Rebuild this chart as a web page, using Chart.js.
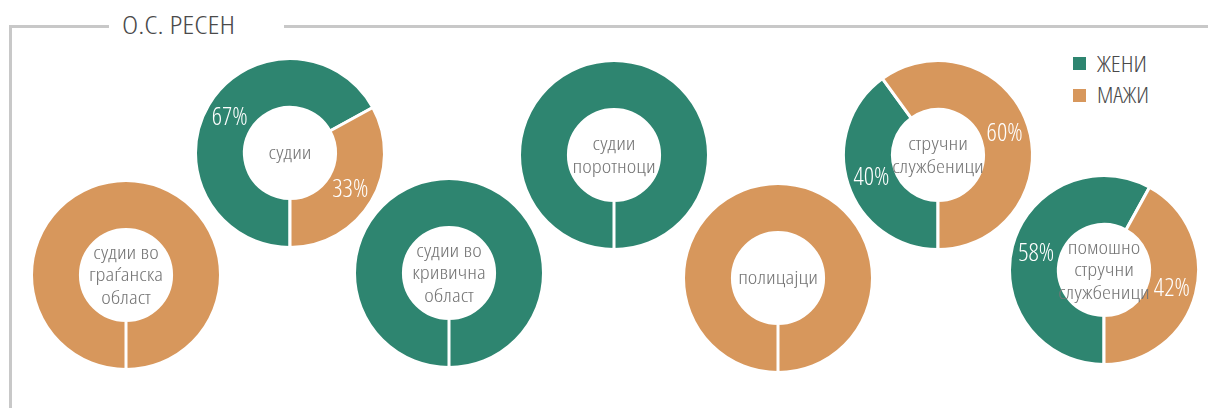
<!DOCTYPE html>
<html>
<head>
<meta charset="utf-8">
<script src="https://cdn.jsdelivr.net/npm/chart.js@4.4.1/dist/chart.umd.min.js"></script>
<style>
  html, body { margin: 0; padding: 0; background: #ffffff; }
  body { width: 1208px; height: 408px; position: relative; overflow: hidden; font-family: "Open Sans", "Roboto", sans-serif; font-weight: 300; font-stretch: condensed; }
  .frame-v { position: absolute; left: 9px; top: 25px; width: 3px; height: 400px; background: #c8c8c8; }
  .frame-h1 { position: absolute; left: 9px; top: 25px; width: 100px; height: 3px; background: #c8c8c8; }
  .frame-h2 { position: absolute; left: 284px; top: 25px; width: 930px; height: 3px; background: #c8c8c8; }
  .txt { position: absolute; white-space: nowrap; transform-origin: 0 0; display: inline-block; }
  .title { left: 122px; top: 11px; font-size: 26px; line-height: 26px; color: #4a4a4a; }
  .lg { left: 1097px; font-size: 22px; line-height: 22px; color: #4a4a4a; }
  .sw { position: absolute; left: 1073px; width: 13px; height: 13px; }
  .pie { position: absolute; width: 200px; height: 200px; }
</style>
</head>
<body>
<div class="frame-v"></div>
<div class="frame-h1"></div>
<div class="frame-h2"></div>
<div class="txt title" id="title" data-w="113">О.С. РЕСЕН</div>
<div id="legend"></div>
<div id="pies"></div>
<script>
// ---- data ----
const categories = [
  'судии во\nграѓанска\nобласт',
  'судии',
  'судии во\nкривична\nобласт',
  'судии\nпоротноци',
  'полицајци',
  'стручни\nслужбеници',
  'помошно\nстручни\nслужбеници'
];
const seriesNames = ['ЖЕНИ', 'МАЖИ'];
const women = [0, 67, 100, 100, 0, 40, 58];
const men   = [100, 33, 0, 0, 100, 60, 42];

// ---- layout / style ----
const colors = ['#2e8570', '#d7975c'];
const centers = [[125.5, 274.5], [290, 152.5], [448.5, 272.5], [613.5, 154.5], [777.5, 277.5], [938, 155], [1103.5, 270]];

const legendEl = document.getElementById('legend');
const legendWidths = [50, 52];
seriesNames.forEach((n, i) => {
  const sw = document.createElement('div');
  sw.className = 'sw';
  sw.style.top = (57 + i * 31.5) + 'px';
  sw.style.background = colors[i];
  legendEl.appendChild(sw);
  const t = document.createElement('div');
  t.className = 'txt lg';
  t.style.top = (51.5 + i * 31.5) + 'px';
  t.dataset.w = legendWidths[i];
  t.textContent = n;
  legendEl.appendChild(t);
});
// fit HTML text widths to reference widths (condensed face)
document.querySelectorAll('.txt').forEach(el => {
  const w = el.getBoundingClientRect().width;
  el.style.transform = 'scaleX(' + (parseFloat(el.dataset.w) / w) + ')';
});

const FONT = '"Open Sans", "Roboto", sans-serif';

function setFont(ctx, size) {
  ctx.font = '300 ' + size + 'px ' + FONT;
  try { ctx.fontStretch = 'condensed'; } catch (e) {}
}

const labelPlugin = {
  id: 'labels',
  afterDatasetsDraw(chart) {
    const ctx = chart.ctx;
    const meta = chart.getDatasetMeta(0);
    const ds = chart.data.datasets[0].data;
    const nonZero = ds.filter(v => v > 0).length;
    const lines = chart.options.plugins.centerText.text.split('\n');
    const lh = 22.5;
    const cx = meta.data[0].x, cy = meta.data[0].y + 1;
    ctx.save();
    setFont(ctx, 19);
    const sx = 43 / ctx.measureText('судии').width;
    ctx.fillStyle = '#767676';
    ctx.textAlign = 'center';
    ctx.textBaseline = 'middle';
    lines.forEach((l, i) => {
      ctx.save();
      ctx.translate(cx, cy + (i - (lines.length - 1) / 2) * lh);
      ctx.scale(sx, 1);
      ctx.fillText(l, 0, 0);
      ctx.restore();
    });
    if (nonZero > 1) {
      setFont(ctx, 25);
      const sp = 36 / ctx.measureText('67%').width;
      ctx.fillStyle = '#ffffff';
      meta.data.forEach((arc, i) => {
        if (ds[i] > 0) {
          const p = arc.tooltipPosition();
          ctx.save();
          ctx.translate(p.x, p.y + 1);
          ctx.scale(sp, 1);
          ctx.fillText(ds[i] + '%', 0, 0);
          ctx.restore();
        }
      });
    }
    ctx.restore();
  }
};

const piesEl = document.getElementById('pies');
categories.forEach((cat, i) => {
  const div = document.createElement('div');
  div.className = 'pie';
  div.style.left = (centers[i][0] - 100) + 'px';
  div.style.top = (centers[i][1] - 100) + 'px';
  const c = document.createElement('canvas');
  div.appendChild(c);
  piesEl.appendChild(div);
  new Chart(c, {
    type: 'doughnut',
    data: {
      labels: seriesNames,
      datasets: [{
        data: [women[i], men[i]],
        backgroundColor: colors,
        borderColor: '#ffffff',
        borderWidth: 3
      }]
    },
    options: {
      responsive: true,
      maintainAspectRatio: false,
      animation: false,
      rotation: 180,
      radius: 94.5,
      cutout: 47.5,
      layout: { padding: 0 },
      plugins: {
        legend: { display: false },
        tooltip: { enabled: false },
        centerText: { text: cat }
      }
    },
    plugins: [labelPlugin]
  });
});
</script>
</body>
</html>
